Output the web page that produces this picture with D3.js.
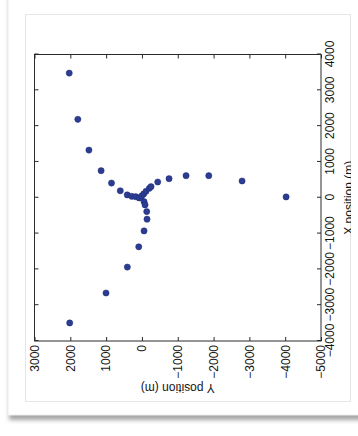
<!DOCTYPE html>
<html>
<head>
<meta charset="utf-8">
<script src="https://d3js.org/d3.v7.min.js"></script>
<style>
  body { margin: 0; background: #fff; }
  svg { display: block; }
  .ax text { font-family: "Liberation Sans", Arial, sans-serif; font-size: 12px; fill: #151515; }
  .ax path, .ax line { stroke: #2a2a2a; }
</style>
</head>
<body>
<svg id="fig" width="358" height="436"></svg>
<script>
// antenna positions in metres
let xPos = [3480, 2190, 1330, 755, 410, 195, 80, 40, 30, -5,
            50,
            106, 181, 265, 309, 440, 532, 616, 616, 468, 22,
            -109, -200, -387, -599, -925, -1370, -1936, -2660, -3496];
let yPos = [2030, 1790, 1480, 1140, 850, 605, 410, 285, 175, 80,
            5,
            -50, -115, -207, -254, -441, -757, -1232, -1866, -2796, -4025,
            -59, -87, -134, -142, -59, 89, 408, 1003, 2017];

let xTicks = [-4000, -3000, -2000, -1000, 0, 1000, 2000, 3000, 4000];
let yTicks = [-5000, -4000, -3000, -2000, -1000, 0, 1000, 2000, 3000];
let xLabel = "X position (m)";
let yLabel = "Y position (m)";

const svg = d3.select("#fig");

// page card with its shadow
let defs = svg.append("defs");
defs.append("filter").attr("id", "shadow").attr("x", "-5%").attr("y", "-5%").attr("width", "110%").attr("height", "110%")
  .append("feGaussianBlur").attr("stdDeviation", 2.2);
defs.append("clipPath").attr("id", "panelClip")
  .append("rect").attr("x", 25).attr("y", 14).attr("width", 326).attr("height", 388);

svg.append("rect").attr("x", 9).attr("y", -20).attr("width", 370).attr("height", 440)
  .attr("fill", "#a4a4a4").attr("filter", "url(#shadow)");
svg.append("rect").attr("x", 8).attr("y", -20).attr("width", 370).attr("height", 435)
  .attr("fill", "#fff").attr("stroke", "#eeeeee");

// figure panel
svg.append("rect").attr("x", 25.5).attr("y", 14.5).attr("width", 325).attr("height", 387)
  .attr("fill", "#fff").attr("stroke", "#e6e6e6");

// the original plot is drawn rotated by -90 degrees
const W = 286.5, H = 286.5;
const x = d3.scaleLinear().domain([-4000, 4000]).range([0, W]);
const y = d3.scaleLinear().domain([-5000, 3000]).range([H, 0]);

const g = svg.append("g").attr("clip-path", "url(#panelClip)")
  .append("g").attr("transform", "translate(34.5,341) rotate(-90)");

g.append("g").attr("class", "ax").attr("transform", `translate(0,${H})`)
  .call(d3.axisBottom(x).tickValues(xTicks).tickSize(-4).tickPadding(4).tickFormat(d3.format("d")));
g.append("g").attr("class", "ax")
  .call(d3.axisLeft(y).tickValues(yTicks).tickSize(-4).tickPadding(4).tickFormat(d3.format("d")));
g.append("g").attr("class", "ax")
  .call(d3.axisTop(x).tickValues(xTicks).tickSize(-4).tickFormat(""));
g.append("g").attr("class", "ax").attr("transform", `translate(${W},0)`)
  .call(d3.axisRight(y).tickValues(yTicks).tickSize(-4).tickFormat(""));
g.selectAll(".ax .domain").remove();

g.append("rect").attr("width", W).attr("height", H)
  .attr("fill", "none").attr("stroke", "#2a2a2a").attr("stroke-width", 1);

g.append("text").attr("class", "lbl")
  .attr("x", W / 2).attr("y", H + 28).attr("dy", "0.35em")
  .attr("text-anchor", "middle")
  .style("font-family", "Liberation Sans, Arial, sans-serif").style("font-size", "12px").attr("fill", "#151515")
  .text(xLabel);
g.append("text").attr("class", "lbl")
  .attr("transform", `translate(-47,${H / 2}) rotate(-90)`).attr("dy", "0.35em")
  .attr("text-anchor", "middle")
  .style("font-family", "Liberation Sans, Arial, sans-serif").style("font-size", "12px").attr("fill", "#151515")
  .text(yLabel);

g.selectAll("circle.ant").data(d3.zip(xPos, yPos)).join("circle")
  .attr("class", "ant")
  .attr("cx", d => x(d[0])).attr("cy", d => y(d[1])).attr("r", 3.1)
  .attr("fill", "#2c3c91").attr("stroke", "#1f2c78").attr("stroke-width", 0.5);
</script>
</body>
</html>
